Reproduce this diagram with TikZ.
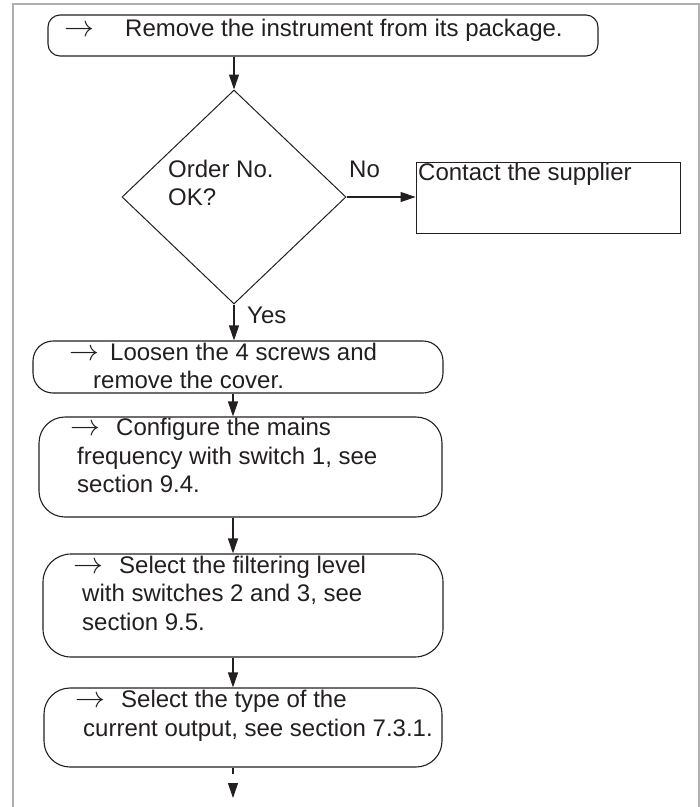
\documentclass[tikz,border=0pt]{standalone}
\usepackage{fontspec}
\setmainfont{Liberation Sans}
\usetikzlibrary{arrows.meta,shapes.geometric}
\definecolor{ink}{RGB}{35,31,32}
\definecolor{framegray}{RGB}{175,175,175}
\newcommand{\leadarrow}{\scalebox{1.2}{$\rightarrow$}}
\tikzset{
  procbox/.style={draw=ink, line width=1.1pt, inner sep=0pt},
  txt/.style={anchor=base west, inner sep=0pt, text=ink, font=\fontsize{24}{28}\selectfont},
  flow/.style={draw=ink, line width=1.1pt, -{Triangle[length=15pt,width=10pt]}}
}

\begin{document}
\begin{tikzpicture}[x=1pt,y=-1pt]
\useasboundingbox (0,0) rectangle (700,807);

%Frame
\draw [framegray, line width=2pt] (13,807) -- (13,4) -- (699,4) -- (699,807);

%Shape: Boxes
\node (unpack) [procbox, rounded corners=12pt, minimum width=550pt, minimum height=41pt] at (323,35.5) {};
\node (order) [draw=ink, line width=1pt, diamond, inner sep=0pt, minimum width=224pt, minimum height=214pt] at (234,197) {};
\node (supplier) [draw=ink, line width=0.9pt, inner sep=0pt, minimum width=264pt, minimum height=71pt] at (548,197.5) {};
\node (cover) [procbox, rounded corners=20pt, minimum width=410pt, minimum height=52pt] at (238,367) {};
\node (mains) [procbox, rounded corners=26pt, minimum width=403pt, minimum height=100pt] at (240.5,467) {};
\node (filter) [procbox, rounded corners=28pt, minimum width=400pt, minimum height=103pt] at (243,605.5) {};
\node (output) [procbox, rounded corners=26pt, minimum width=398pt, minimum height=79pt] at (243,727.5) {};
\coordinate (spine) at (233,0);
\coordinate (next) at (233,798);

% Text Node
\node (unpackarr) [txt] at (64,36) {\leadarrow};
\node (unpackl1) [txt] at (125,36) {Remove the instrument from its package.};
% Text Node
\node (orderl1) [txt] at (168,177) {Order No.};
\node (orderl2) [txt] at (168,205) {OK?};
\node (nolbl) [txt] at (349,177) {No};
\node (yeslbl) [txt] at (247,323) {Yes};
\node (supplierl1) [txt] at (418,180) {Contact the supplier};
% Text Node
\node (coverarr) [txt] at (69,360) {\leadarrow};
\node (coverl1) [txt] at (110,360) {Loosen the 4 screws and};
\node (coverl2) [txt] at (93,388) {remove the cover.};
% Text Node
\node (mainsarr) [txt] at (70,435) {\leadarrow};
\node (mainsl1) [txt] at (116,435) {Configure the mains};
\node (mainsl2) [txt] at (77,464) {frequency with switch 1, see};
\node (mainsl3) [txt] at (77,492) {section 9.4.};
% Text Node
\node (filterarr) [txt] at (73,573) {\leadarrow};
\node (filterl1) [txt] at (119,573) {Select the filtering level};
\node (filterl2) [txt] at (82,601) {with switches 2 and 3, see};
\node (filterl3) [txt] at (82,630) {section 9.5.};
% Text Node
\node (outputarr) [txt] at (75,707) {\leadarrow};
\node (outputl1) [txt] at (121,707) {Select the type of the};
\node (outputl2) [txt] at (83,736) {current output, see section 7.3.1.};

%Straight Lines
\draw [flow] (order.north |- unpack.south) -- (order.north);
\draw [flow] (order.east) -- (order.east -| supplier.west);
\draw [flow] (order.south) -- (order.south |- cover.north);
\draw [flow] (spine |- cover.south) -- (spine |- mains.north);
\draw [flow] (spine |- mains.south) -- (spine |- filter.north);
\draw [flow] (spine |- filter.south) -- (spine |- output.north);
\draw [flow, dash pattern={on 6pt off 20pt}] (spine |- output.south) -- (next);

\end{tikzpicture}
\end{document}
